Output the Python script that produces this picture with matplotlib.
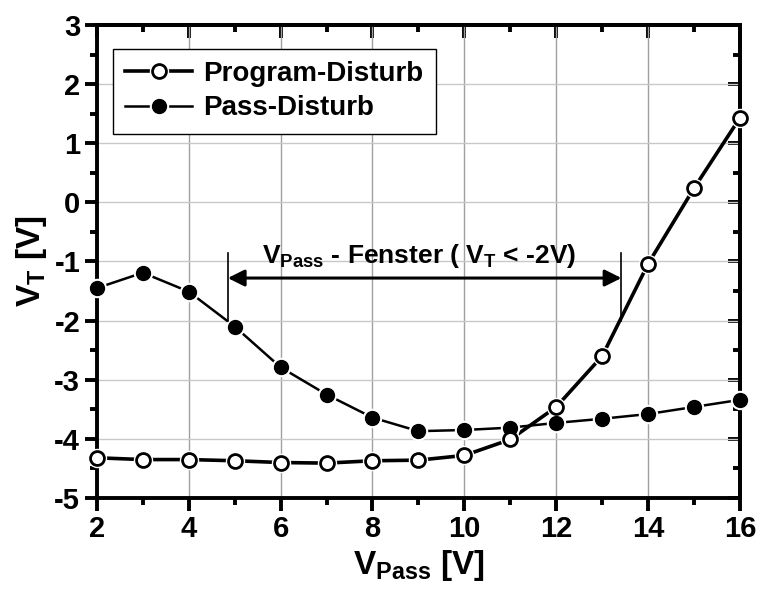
import matplotlib
matplotlib.use("Agg")
import matplotlib.pyplot as plt
from matplotlib.legend_handler import HandlerTuple
from matplotlib.ticker import MultipleLocator
from matplotlib.lines import Line2D

plt.rcParams['font.family'] = ['Liberation Sans', 'DejaVu Sans']
plt.rcParams['font.weight'] = 'bold'
plt.rcParams['axes.unicode_minus'] = False
plt.rcParams['mathtext.fontset'] = 'custom'
plt.rcParams['mathtext.rm'] = 'Liberation Sans:bold'
plt.rcParams['mathtext.bf'] = 'Liberation Sans:bold'
plt.rcParams['mathtext.it'] = 'Liberation Sans:bold'

v_pass = [2, 3, 4, 5, 6, 7, 8, 9, 10, 11, 12, 13, 14, 15, 16]
program_disturb = [-4.32, -4.35, -4.35, -4.37, -4.40, -4.41, -4.37, -4.36, -4.28,
                   -4.01, -3.46, -2.60, -1.04, 0.24, 1.43]
pass_disturb = [-1.45, -1.19, -1.51, -2.10, -2.79, -3.25, -3.64, -3.87, -3.85,
                -3.81, -3.73, -3.66, -3.58, -3.46, -3.34]
window_x = [4.85, 13.42]
window_y = -1.28
window_bar = [-0.85, -2.0]

fig = plt.figure(figsize=(7.57, 5.89), dpi=100)
ax = fig.add_axes([0.128, 0.1545, 0.8495, 0.8031])

ms = 10
ax.plot(v_pass, pass_disturb, color='black', lw=1.8, zorder=3)
ax.plot(v_pass, program_disturb, color='black', lw=2.6, zorder=3)
ax.plot(v_pass, pass_disturb, ls='none', marker='o', ms=ms + 4, mfc='white',
        mec='none', zorder=4, clip_on=False)
ax.plot(v_pass, program_disturb, ls='none', marker='o', ms=ms + 4, mfc='white',
        mec='none', zorder=4, clip_on=False)
ax.plot(v_pass, pass_disturb, ls='none', marker='o', ms=ms, mfc='black',
        mec='black', zorder=5, clip_on=False)
ax.plot(v_pass, program_disturb, ls='none', marker='o', ms=ms, mfc='white',
        mec='black', mew=2, zorder=5, clip_on=False)

lp = Line2D([], [], color='black', lw=2.6)
lpw = Line2D([], [], ls='none', marker='o', ms=ms + 4, mfc='white', mec='none')
lpm = Line2D([], [], ls='none', marker='o', ms=ms, mfc='white', mec='black', mew=2)
lq = Line2D([], [], color='black', lw=1.8)
lqw = Line2D([], [], ls='none', marker='o', ms=ms + 4, mfc='white', mec='none')
lqm = Line2D([], [], ls='none', marker='o', ms=ms, mfc='black', mec='black')
leg = ax.legend([(lp, lpw, lpm), (lq, lqw, lqm)], ['Program-Disturb', 'Pass-Disturb'],
                handler_map={tuple: HandlerTuple(ndivide=1, pad=0)},
                loc='upper left', bbox_to_anchor=(0.025, 0.95), fancybox=False,
                framealpha=1, edgecolor='black', fontsize=20, handlelength=2.4,
                borderpad=0.45, labelspacing=0.3, handletextpad=0.4, borderaxespad=0)
leg.get_frame().set_linewidth(1.0)
for t in leg.get_texts():
    t.set_fontweight('bold')

ax.annotate('', xy=(window_x[0], window_y), xytext=(window_x[1], window_y),
            arrowprops=dict(arrowstyle='<|-|>', color='black', lw=2.2,
                            mutation_scale=25, shrinkA=0, shrinkB=0), zorder=6)
ax.plot([window_x[0], window_x[0]], window_bar, color='black', lw=1.2, zorder=6)
ax.plot([window_x[1], window_x[1]], window_bar, color='black', lw=1.2, zorder=6)
ax.text(5.6, -1.02, r'V$_{\rm Pass}$ - Fenster ( V$_{\rm T}$ < -2V)', fontsize=19,
        fontweight='bold', ha='left', va='baseline', zorder=7)

ax.set_xlim(2, 16)
ax.set_ylim(-5, 3)
ax.xaxis.set_major_locator(MultipleLocator(2))
ax.xaxis.set_minor_locator(MultipleLocator(1))
ax.yaxis.set_major_locator(MultipleLocator(1))
ax.yaxis.set_minor_locator(MultipleLocator(0.5))

ax.grid(True, which='major', axis='x', color='#a0a0a0', lw=1.0, zorder=0)
ax.grid(True, which='major', axis='y', color='#c8c8c8', lw=1.0, zorder=0)
ax.set_axisbelow(True)

for s in ax.spines.values():
    s.set_linewidth(2.8)

ax.tick_params(which='major', direction='out', length=9, width=2.8, labelsize=21, pad=3)
ax.tick_params(which='minor', direction='out', length=5, width=2.8)
for lab in ax.get_xticklabels() + ax.get_yticklabels():
    lab.set_fontweight('bold')

secx = ax.secondary_xaxis('top')
secx.xaxis.set_major_locator(MultipleLocator(2))
secx.xaxis.set_minor_locator(MultipleLocator(1))
secx.tick_params(which='major', direction='in', length=9, width=2.8, labeltop=False)
secx.tick_params(which='minor', direction='in', length=5, width=2.8)
secx.spines['top'].set_linewidth(2.8)
secy = ax.secondary_yaxis('right')
secy.yaxis.set_major_locator(MultipleLocator(1))
secy.yaxis.set_minor_locator(MultipleLocator(0.5))
secy.tick_params(which='major', direction='in', length=9, width=2.8, labelright=False)
secy.tick_params(which='minor', direction='in', length=5, width=2.8)
secy.spines['right'].set_linewidth(2.8)

ax.set_xlabel(r'V$_{\rm Pass}$ [V]', fontsize=24, fontweight='bold', labelpad=4)
ax.set_ylabel(r'V$_{\rm T}$ [V]', fontsize=24, fontweight='bold', labelpad=4)

fig.savefig('out.png', dpi=100)
